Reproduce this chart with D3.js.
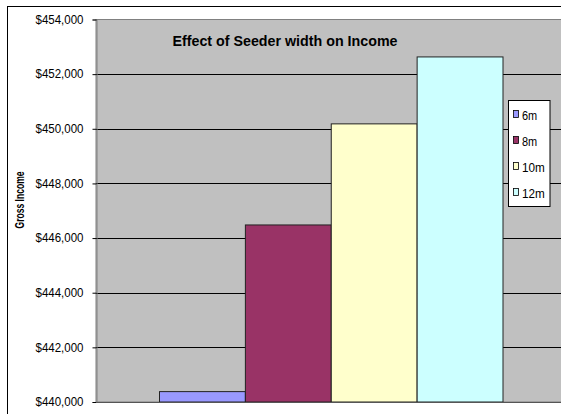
<!DOCTYPE html>
<html><head><meta charset="utf-8">
<script src="https://cdn.jsdelivr.net/npm/d3@7"></script>
<style>body{margin:0;background:#fff}svg{display:block;font-family:"Liberation Sans",Arial,sans-serif}</style>
</head><body>
<svg id="c" width="561" height="414"></svg>
<script>
const series = ["6m","8m","10m","12m"];
const values = [440380, 446480, 450180, 452630];
const colors = ["#9999FF","#993366","#FFFFCC","#CCFFFF"];
const yTicks = [440000,442000,444000,446000,448000,450000,452000,454000];
const title = "Effect of Seeder width on Income";
const yLabel = "Gross Income";

const svg = d3.select("#c");
// outer chart frame
svg.append("rect").attr("x",7.5).attr("y",6.5).attr("width",620).attr("height",500)
  .attr("fill","#fff").attr("stroke","#000").attr("stroke-width",1);

const pl = 96, pt = 19.5, pr = 566, pb = 402;
const y = d3.scaleLinear().domain([440000,454000]).range([pb,pt]);
const x = d3.scaleBand().domain(series).range([159,502.5]).padding(0);

// plot background
svg.append("rect").attr("x",pl).attr("y",pt).attr("width",pr-pl).attr("height",pb-pt)
  .attr("fill","#C0C0C0").attr("stroke","#808080").attr("stroke-width",1);

// gridlines
svg.append("g").selectAll("line").data(yTicks.slice(1,-1)).join("line")
  .attr("x1",pl).attr("x2",pr).attr("y1",d=>Math.round(y(d))+0.5).attr("y2",d=>Math.round(y(d))+0.5)
  .attr("stroke","#000").attr("stroke-width",1);

// title
svg.append("text").attr("x",285).attr("y",45.5).attr("text-anchor","middle")
  .attr("font-weight","bold").attr("font-size",15).attr("textLength",225).attr("lengthAdjust","spacingAndGlyphs")
  .attr("fill","#000").text(title);

// bars
svg.append("g").selectAll("rect").data(series).join("rect")
  .attr("x",d=>x(d)+0.5).attr("width",x.bandwidth())
  .attr("y",(d,i)=>y(values[i])).attr("height",(d,i)=>pb-y(values[i]))
  .attr("fill",(d,i)=>colors[i]).attr("stroke","#222").attr("stroke-width",1);

// y axis
const ax = svg.append("g").attr("transform",`translate(${pl+0.5},0)`)
  .call(d3.axisLeft(y).tickValues(yTicks).tickSize(4).tickPadding(9)
    .tickFormat(d=>"$"+d3.format(",")(d)));
ax.select(".domain").attr("stroke","#808080");
ax.selectAll(".tick line").attr("stroke","#000");
ax.selectAll(".tick text").attr("font-size",12).attr("fill","#000")
  .attr("font-family","'Liberation Sans',Arial,sans-serif").attr("textLength",48).attr("lengthAdjust","spacingAndGlyphs");
// bottom axis line
svg.append("line").attr("x1",pl).attr("x2",pr).attr("y1",pb+0.5).attr("y2",pb+0.5).attr("stroke","#555");

// y label
svg.append("text").attr("transform","translate(23.5,200) rotate(-90)").attr("text-anchor","middle")
  .attr("font-weight","bold").attr("font-size",12.5).attr("fill","#000").attr("textLength",57).attr("lengthAdjust","spacingAndGlyphs")
  .text(yLabel);

// legend
const lg = svg.append("g");
lg.append("rect").attr("x",508.5).attr("y",100.5).attr("width",41.5).attr("height",106)
  .attr("fill","#fff").attr("stroke","#000");
const ly = d3.scalePoint().domain(series).range([115,193]);
const it = lg.selectAll("g").data(series).join("g");
it.append("rect").attr("x",513.5).attr("y",d=>ly(d)-4.5).attr("width",5).attr("height",7)
  .attr("fill",(d,i)=>colors[i]).attr("stroke","#000").attr("stroke-width",0.8);
it.append("text").attr("x",522).attr("y",d=>ly(d)+5).attr("font-size",13).attr("fill","#000")
  .attr("textLength",d=>d.length*7.6).attr("lengthAdjust","spacingAndGlyphs").text(d=>d);
</script>
</body></html>
